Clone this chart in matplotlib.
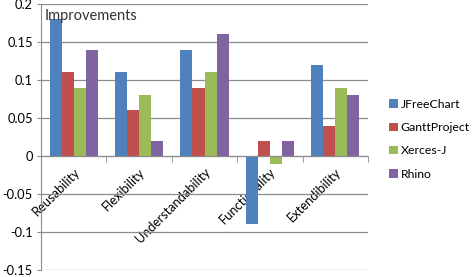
import matplotlib.pyplot as plt
import numpy as np
from matplotlib.ticker import FuncFormatter, FixedLocator

categories = ["Reusability", "Flexibility", "Understandability", "Functionality", "Extendibility"]
series = ["JFreeChart", "GanttProject", "Xerces-J", "Rhino"]
jfreechart = [0.18, 0.11, 0.14, -0.09, 0.12]
ganttproject = [0.11, 0.06, 0.09, 0.02, 0.04]
xerces = [0.09, 0.08, 0.11, -0.01, 0.09]
rhino = [0.14, 0.02, 0.16, 0.02, 0.08]
colors = ["#4F81BD", "#C0504D", "#9BBB59", "#8064A2"]

plt.rcParams["font.family"] = ["Lato", "DejaVu Sans"]
plt.rcParams["font.size"] = 9.3

fig = plt.figure(figsize=(4.72, 2.77), dpi=100)
ax = fig.add_axes([41 / 472, 1 - 270 / 277, 327 / 472, 266 / 277])

x = np.arange(len(categories))
width = 0.185
for i, (vals, name) in enumerate(zip([jfreechart, ganttproject, xerces, rhino], series)):
    ax.bar(x + (i - 1.5) * width, vals, width, color=colors[i], label=name, zorder=3)

ax.set_xlim(-0.5, len(categories) - 0.5)
ax.set_ylim(-0.15, 0.2)
ax.set_yticks(np.arange(-0.15, 0.201, 0.05))
ax.yaxis.set_major_formatter(FuncFormatter(lambda v, p: f"{round(v, 2):g}"))
ax.grid(axis="y", color="#8c8c8c", linewidth=0.9, zorder=0)

for s in ["top", "right"]:
    ax.spines[s].set_visible(False)
ax.spines["left"].set_color("#8c8c8c")
ax.spines["bottom"].set_color("#8c8c8c")
ax.spines["bottom"].set_position(("data", 0))
ax.spines["bottom"].set_zorder(4)
ax.tick_params(axis="y", length=3, color="#8c8c8c", pad=3, labelcolor="black")

ax.set_xticks(x)
ax.set_xticklabels(categories, rotation=45, ha="right", rotation_mode="anchor")
ax.tick_params(axis="x", which="major", length=0, pad=7)
ax.xaxis.set_minor_locator(FixedLocator(np.arange(-0.5, len(categories), 1.0)))
ax.tick_params(axis="x", which="minor", length=4, color="#8c8c8c", direction="out")

ax.text(0.01, 0.98, "Improvements", transform=ax.transAxes, fontsize=10.5,
        color="#333333", va="top", ha="left")

fig.legend(loc="upper left", bbox_to_anchor=(378 / 472, 1 - 88 / 277), frameon=False,
           handlelength=0.7, handleheight=0.7, handletextpad=0.25, labelspacing=1.0,
           fontsize=8.8)

fig.savefig("out.png", dpi=100)
